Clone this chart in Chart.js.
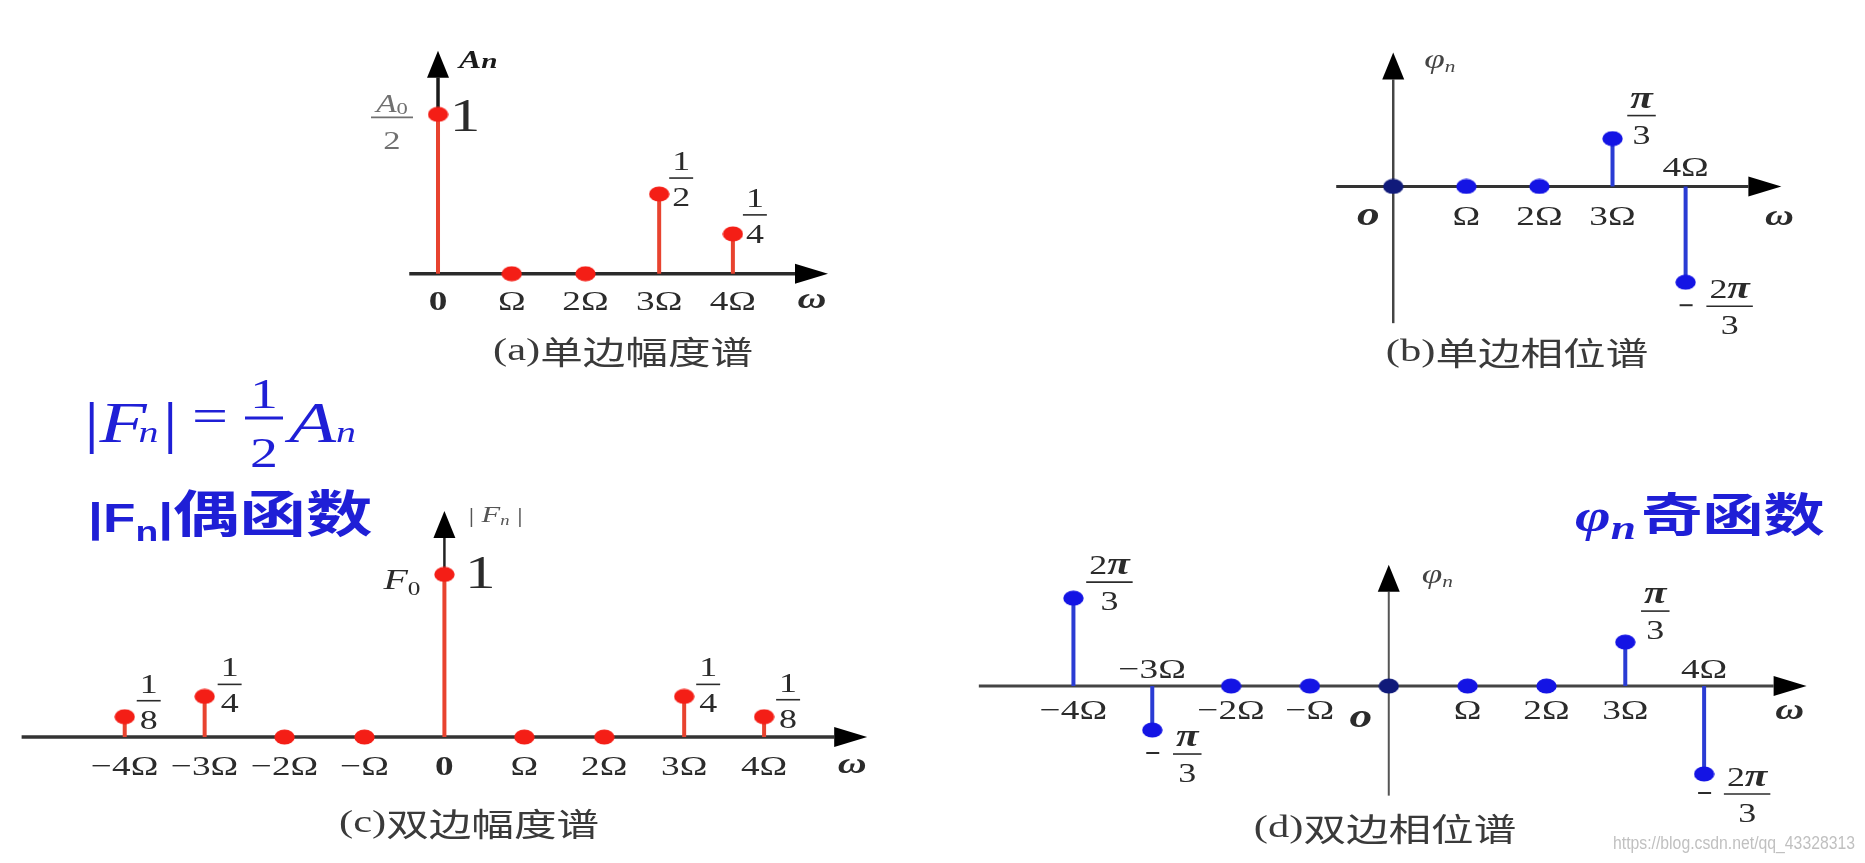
<!DOCTYPE html>
<html>
<head>
<meta charset="utf-8">
<script src="https://cdn.jsdelivr.net/npm/chart.js@4.4.0/dist/chart.umd.min.js"></script>
<style>
  html, body { margin: 0; padding: 0; background: #fff; width: 1865px; height: 863px; overflow: hidden; }
  canvas { position: absolute; }
</style>
</head>
<body>
<canvas id="chartA"></canvas>
<canvas id="chartB"></canvas>
<canvas id="chartC"></canvas>
<canvas id="chartD"></canvas>
<script>
// ---- dados (a) espectro de amplitude unilateral ----
const omegaA = [0, 1, 2, 3, 4];
const ampA = [1, 0, 0, 1 / 2, 1 / 4];
const ticksA = ['0', 'Ω', '2Ω', '3Ω', '4Ω'];
const fracA = [null, null, null, ['1', '2'], ['1', '4']];

// ---- (b) espectro de fase unilateral ----
const omegaB = [0, 1, 2, 3, 4];
const phaseB = [0, 0, 0, Math.PI / 3, -2 * Math.PI / 3];
const ticksB = ['', 'Ω', '2Ω', '3Ω', '4Ω'];
const fracB = [null, null, null, ['π', '3'], ['2π', '3']];

// ---- (c) espectro de amplitude bilateral ----
const omegaC = [-4, -3, -2, -1, 0, 1, 2, 3, 4];
const ampC = [1 / 8, 1 / 4, 0, 0, 1, 0, 0, 1 / 4, 1 / 8];
const ticksC = ['−4Ω', '−3Ω', '−2Ω', '−Ω', '0', 'Ω', '2Ω', '3Ω', '4Ω'];
const fracC = [['1', '8'], ['1', '4'], null, null, null, null, null, ['1', '4'], ['1', '8']];

// ---- (d) espectro de fase bilateral ----
const omegaD = [-4, -3, -2, -1, 0, 1, 2, 3, 4];
const phaseD = [2 * Math.PI / 3, -Math.PI / 3, 0, 0, 0, 0, 0, Math.PI / 3, -2 * Math.PI / 3];
const ticksD = ['−4Ω', '−3Ω', '−2Ω', '−Ω', '', 'Ω', '2Ω', '3Ω', '4Ω'];
const fracD = [['2π', '3'], ['π', '3'], null, null, null, null, null, ['π', '3'], ['2π', '3']];

const captions = [['(a)', '单边幅度谱'], ['(b)', '单边相位谱'], ['(c)', '双边幅度谱'], ['(d)', '双边相位谱']];

// ---- estilos ----
const SX = 1.33; // a figura original está esticada na horizontal
const SERIF = '"Liberation Serif","DejaVu Serif",serif';
const SANS = '"Liberation Sans","DejaVu Sans",sans-serif';
const CJK = '"Noto Sans CJK SC","Noto Sans",sans-serif';
const TXT = '#2b2b2b';
const CAP = '#3a3a3a';
const GREY = '#707070';
const BLUE_TXT = '#1f1fd6';
const RED_DOT = '#f41e16', RED_STEM = '#e8432f';
const BLUE_DOT = '#1414e4', BLUE_STEM = '#2a3cd4', NAVY_DOT = '#101a7a';

/**
 * Escreve uma sequência de trechos [texto, fonte, cor, dy, avanço extra]
 */
function runs(ctx, segs, x, y, align, base) {
    ctx.save();
    ctx.textBaseline = base || 'alphabetic';
    ctx.textAlign = 'left';
    let w = 0;
    segs.forEach(s => { ctx.font = s[1]; w += ctx.measureText(s[0]).width + (s[4] || 0); });
    const x0 = align === 'center' ? x - w * SX / 2 : align === 'right' ? x - w * SX : x;
    ctx.translate(x0, y);
    ctx.scale(SX, 1);
    let cx = 0;
    segs.forEach(s => {
        ctx.font = s[1];
        ctx.fillStyle = s[2];
        ctx.fillText(s[0], cx, s[3] || 0);
        cx += ctx.measureText(s[0]).width + (s[4] || 0);
    });
    ctx.restore();
    return w * SX;
}

function segWidth(ctx, segs) {
    ctx.save();
    let w = 0;
    segs.forEach(s => { ctx.font = s[1]; w += ctx.measureText(s[0]).width; });
    ctx.restore();
    return w;
}

function line(ctx, x0, y0, x1, y1, color, lw) {
    ctx.save();
    ctx.strokeStyle = color;
    ctx.lineWidth = lw;
    ctx.beginPath();
    ctx.moveTo(x0, y0);
    ctx.lineTo(x1, y1);
    ctx.stroke();
    ctx.restore();
}

function mathSegs(s, size, color) {
    return Array.from(s).map(ch => ch === 'π'
        ? [ch, `bold italic ${size + 4}px ${SERIF}`, color]
        : [ch, `${size}px ${SERIF}`, color]);
}

// fração com traço: cx = centro, by = altura do traço
function frac(ctx, num, den, cx, by, color, size) {
    color = color || TXT;
    size = size || 27;
    const n = mathSegs(num, size, color), d = mathSegs(den, size, color);
    const w = Math.max(segWidth(ctx, n), segWidth(ctx, d)) * SX + 6;
    line(ctx, cx - w / 2, by, cx + w / 2, by, color, 1.6);
    runs(ctx, n, cx, by - 8, 'center');
    runs(ctx, d, cx, by + 28, 'center');
}

function arrowLine(ctx, x0, y0, x1, y1, color, lw, len, half) {
    const ang = Math.atan2(y1 - y0, x1 - x0);
    const bx = x1 - Math.cos(ang) * len, by = y1 - Math.sin(ang) * len;
    ctx.save();
    ctx.strokeStyle = color;
    ctx.lineWidth = lw;
    ctx.beginPath();
    ctx.moveTo(x0, y0);
    ctx.lineTo(bx, by);
    ctx.stroke();
    ctx.fillStyle = '#000';
    ctx.beginPath();
    ctx.moveTo(x1, y1);
    ctx.lineTo(bx - Math.sin(ang) * half, by + Math.cos(ang) * half);
    ctx.lineTo(bx + Math.sin(ang) * half, by - Math.cos(ang) * half);
    ctx.closePath();
    ctx.fill();
    ctx.restore();
}

// ponto elíptico (a figura é esticada)
function makeDot(color) {
    const c = document.createElement('canvas');
    c.width = 21;
    c.height = 16;
    const g = c.getContext('2d');
    g.fillStyle = color;
    g.beginPath();
    g.ellipse(10.5, 8, 10.2, 7.6, 0, 0, Math.PI * 2);
    g.fill();
    return c;
}

/**
 * Cria um gráfico de hastes (stem) num canvas posicionado na página
 */
function stemChart(id, p) {
    const cv = document.getElementById(id);
    const b = p.box;
    cv.width = b.w;
    cv.height = b.h;
    Object.assign(cv.style, { left: b.l + 'px', top: b.t + 'px', width: b.w + 'px', height: b.h + 'px' });

    const ox = p.origin.x - b.l, oy = p.origin.y - b.t;
    const pts = p.xs.map((x, i) => ({ x: x, y: p.ys[i] }));
    const dot = makeDot(p.dotColor);
    const zeroDot = makeDot(p.zeroDotColor || p.dotColor);

    const plugin = {
        id: 'stems_' + id,
        beforeDatasetsDraw(chart) {
            const ctx = chart.ctx, sx = chart.scales.x, sy = chart.scales.y;
            const X = v => sx.getPixelForValue(v) + b.l, Y = v => sy.getPixelForValue(v) + b.t;
            ctx.save();
            ctx.translate(-b.l, -b.t);
            arrowLine(ctx, X(p.xAxis[0]), Y(0), X(p.xAxis[1]), Y(0), p.xAxisColor, p.xAxisWidth, 33, 10);
            arrowLine(ctx, X(0), Y(p.yAxis[0]), X(0), Y(p.yAxis[1]), p.yAxisColor, p.yAxisWidth, 27, 11);
            pts.forEach(pt => {
                if (pt.y !== 0) line(ctx, X(pt.x), Y(0), X(pt.x), Y(pt.y), p.stemColor, 4);
            });
            ctx.restore();
        },
        afterDatasetsDraw(chart) {
            const ctx = chart.ctx, sx = chart.scales.x, sy = chart.scales.y;
            const X = v => sx.getPixelForValue(v) + b.l, Y = v => sy.getPixelForValue(v) + b.t;
            ctx.save();
            ctx.translate(-b.l, -b.t);

            // rótulos do eixo ω
            p.ticks.forEach((t, i) => {
                if (!t) return;
                const above = (p.above || []).includes(i);
                const font = t === '0' ? `bold 28px ${SERIF}` : `28px ${SERIF}`;
                runs(ctx, [[t, font, TXT]], X(p.xs[i]), Y(0) + (above ? p.tickAbove : p.tickBelow), 'center', 'middle');
            });
            runs(ctx, [['ω', `bold italic 30px ${SERIF}`, TXT]], X(p.xAxis[1]) + p.omegaPos[0], Y(0) + p.omegaPos[1], 'center', 'middle');

            // frações junto das hastes
            (p.notes || []).forEach(nt => {
                const f = p.fracs[nt.i];
                const px = X(p.xs[nt.i]), py = Y(p.ys[nt.i]);
                if (nt.minus) line(ctx, px - 6, py + nt.dy - 1, px + 7, py + nt.dy - 1, TXT, 2);
                frac(ctx, f[0], f[1], px + nt.dx, py + nt.dy);
            });

            // legenda
            runs(ctx, [[p.caption[0], `32px ${SERIF}`, CAP], [p.caption[1], `32px ${CJK}`, CAP]],
                p.captionPos[0], p.captionPos[1], 'center', 'middle');

            if (p.extra) p.extra(ctx, X, Y);
            ctx.restore();
        }
    };

    return new Chart(cv, {
        type: 'scatter',
        data: {
            datasets: [{
                data: pts,
                pointStyle: pts.map(pt => (pt.x === 0 && pt.y === 0) ? zeroDot : dot),
                pointRadius: 8,
                pointHoverRadius: 8
            }]
        },
        options: {
            responsive: false,
            animation: false,
            devicePixelRatio: 1,
            events: [],
            layout: { padding: 0 },
            plugins: { legend: { display: false }, tooltip: { enabled: false } },
            scales: {
                x: { type: 'linear', display: false, min: -ox / p.unit.x, max: (b.w - ox) / p.unit.x },
                y: { type: 'linear', display: false, min: (oy - b.h) / p.unit.y, max: oy / p.unit.y }
            }
        },
        plugins: [plugin]
    });
}

// ---- (a) ----
stemChart('chartA', {
    box: { l: 300, t: 20, w: 600, h: 350 },
    origin: { x: 433, y: 278 }, unit: { x: 76, y: 168 },
    xs: omegaA, ys: ampA, ticks: ticksA, fracs: fracA,
    xAxis: [-0.39, 5.29], yAxis: [0, 1.4],
    xAxisColor: '#2a2a2a', xAxisWidth: 3.5, yAxisColor: '#1a1a1a', yAxisWidth: 3.5,
    dotColor: RED_DOT, stemColor: RED_STEM,
    tickBelow: 29, omegaPos: [-16, 27],
    notes: [{ i: 3, dx: 22, dy: -16 }, { i: 4, dx: 22, dy: -19 }],
    caption: captions[0], captionPos: [623, 352],
    extra(ctx, X, Y) {
        const x0 = X(0), y1 = Y(ampA[0]);
        runs(ctx, [['A', `bold italic 25px ${SERIF}`, '#1a1a1a'], ['n', `bold italic 22px ${SERIF}`, '#1a1a1a']], x0 + 21, 68, 'left');
        // A0/2
        const bx = x0 - 46, by = y1 + 3;
        line(ctx, bx - 21, by, bx + 21, by, GREY, 1.6);
        runs(ctx, [['A', `italic 25px ${SERIF}`, GREY], ['0', `17px ${SERIF}`, GREY, 2]], bx, by - 5, 'center');
        runs(ctx, [['2', `26px ${SERIF}`, GREY]], bx, by + 32, 'center');
        runs(ctx, [['1', `46px ${SERIF}`, TXT]], x0 + 27, y1 + 5, 'center', 'middle');
    }
});

// ---- (b) ----
stemChart('chartB', {
    box: { l: 1300, t: 20, w: 565, h: 350 },
    origin: { x: 1387, y: 186 }, unit: { x: 75.5, y: 48.2 },
    xs: omegaB, ys: phaseB, ticks: ticksB, fracs: fracB,
    xAxis: [-0.78, 5.31], yAxis: [-2.99, 2.93],
    xAxisColor: '#333', xAxisWidth: 3, yAxisColor: '#444', yAxisWidth: 2.5,
    dotColor: BLUE_DOT, zeroDotColor: NAVY_DOT, stemColor: BLUE_STEM,
    tickBelow: 31, tickAbove: -18, above: [4], omegaPos: [-2, 31],
    notes: [{ i: 3, dx: 29, dy: -23 }, { i: 4, dx: 44, dy: 24, minus: true }],
    caption: captions[1], captionPos: [1517, 353],
    extra(ctx, X, Y) {
        runs(ctx, [['o', `bold italic 34px ${SERIF}`, TXT]], X(0) - 25, Y(0) + 30, 'center', 'middle');
        runs(ctx, [['φ', `italic 28px ${SERIF}`, '#444'], ['n', `italic 16px ${SERIF}`, '#444', 4]], X(0) + 31, 68, 'left');
    }
});

// ---- (c) ----
stemChart('chartC', {
    box: { l: 0, t: 370, w: 930, h: 480 },
    origin: { x: 444, y: 742 }, unit: { x: 81.5, y: 169 },
    xs: omegaC, ys: ampC, ticks: ticksC, fracs: fracC,
    xAxis: [-5.29, 5.29], yAxis: [0, 1.39],
    xAxisColor: '#333', xAxisWidth: 3.5, yAxisColor: '#222', yAxisWidth: 2.5,
    dotColor: RED_DOT, stemColor: RED_STEM,
    tickBelow: 31, omegaPos: [-15, 28],
    notes: [{ i: 0, dx: 24, dy: -16 }, { i: 1, dx: 25, dy: -12 }, { i: 7, dx: 24, dy: -12 }, { i: 8, dx: 24, dy: -17 }],
    caption: captions[2], captionPos: [469, 824],
    extra(ctx, X, Y) {
        const x0 = X(0), y1 = Y(ampC[4]);
        runs(ctx, [['| ', `22px ${SERIF}`, '#555'], ['F', `italic 23px ${SERIF}`, '#555'], ['n', `italic 14px ${SERIF}`, '#555', 3], [' |', `22px ${SERIF}`, '#555']], x0 + 24, 522, 'left');
        runs(ctx, [['F', `italic 30px ${SERIF}`, TXT], ['0', `19px ${SERIF}`, TXT, 6]], x0 - 24, y1 + 15, 'right');
        runs(ctx, [['1', `46px ${SERIF}`, TXT]], x0 + 36, y1 + 2, 'center', 'middle');

        // |Fn| = 1/2 An
        runs(ctx, [['|', `58px ${SERIF}`, BLUE_TXT], ['F', `italic 58px ${SERIF}`, BLUE_TXT, 0, -6],
            ['n', `italic 30px ${SERIF}`, BLUE_TXT, 0, 3], ['|', `58px ${SERIF}`, BLUE_TXT]], 84, 442, 'left');
        runs(ctx, [['=', `48px ${SERIF}`, BLUE_TXT]], 210, 432, 'center');
        runs(ctx, [['1', `42px ${SERIF}`, BLUE_TXT]], 264, 408, 'center');
        line(ctx, 245, 418, 283, 418, BLUE_TXT, 3);
        runs(ctx, [['2', `42px ${SERIF}`, BLUE_TXT]], 264, 467, 'center');
        runs(ctx, [['A', `italic 58px ${SERIF}`, BLUE_TXT], ['n', `italic 30px ${SERIF}`, BLUE_TXT]], 289, 442, 'left');

        // |Fn|偶函数
        runs(ctx, [['|F', `bold 40px ${SANS}`, BLUE_TXT], ['n', `bold 28px ${SANS}`, BLUE_TXT, 9],
            ['|', `bold 40px ${SANS}`, BLUE_TXT], ['偶函数', `bold 50px ${CJK}`, BLUE_TXT]], 88, 532, 'left');
    }
});

// ---- (d) ----
stemChart('chartD', {
    box: { l: 940, t: 470, w: 925, h: 393 },
    origin: { x: 1388.5, y: 687 }, unit: { x: 80.4, y: 44 },
    xs: omegaD, ys: phaseD, ticks: ticksD, fracs: fracD,
    xAxis: [-5.2, 5.3], yAxis: [-2.61, 2.89],
    xAxisColor: '#444', xAxisWidth: 3, yAxisColor: '#555', yAxisWidth: 2,
    dotColor: BLUE_DOT, zeroDotColor: NAVY_DOT, stemColor: BLUE_STEM,
    tickBelow: 26, tickAbove: -15, above: [1, 8], omegaPos: [-17, 25],
    notes: [{ i: 0, dx: 36, dy: -16 }, { i: 1, dx: 35, dy: 24, minus: true },
        { i: 7, dx: 30, dy: -31 }, { i: 8, dx: 43, dy: 20, minus: true }],
    caption: captions[3], captionPos: [1385, 829],
    extra(ctx, X, Y) {
        runs(ctx, [['o', `bold italic 34px ${SERIF}`, TXT]], X(0) - 28, Y(0) + 32, 'center', 'middle');
        runs(ctx, [['φ', `italic 28px ${SERIF}`, '#444'], ['n', `italic 16px ${SERIF}`, '#444', 4]], X(0) + 33, 583, 'left');

        // φn奇函数
        runs(ctx, [['φ', `bold italic 46px ${SERIF}`, BLUE_TXT], ['n', `bold italic 34px ${SERIF}`, BLUE_TXT, 8, 4],
            ['奇函数', `bold 46px ${CJK}`, BLUE_TXT]], 1575, 531, 'left');

        // marca d'água
        ctx.save();
        ctx.font = `18px ${SANS}`;
        const wm = 'https://blog.csdn.net/qq_43328313';
        const k = 242 / ctx.measureText(wm).width;
        ctx.translate(1613, 849);
        ctx.scale(k, 1);
        ctx.fillStyle = 'rgba(185,185,185,0.9)';
        ctx.textBaseline = 'alphabetic';
        ctx.fillText(wm, 0, 0);
        ctx.restore();
    }
});
</script>
</body>
</html>
